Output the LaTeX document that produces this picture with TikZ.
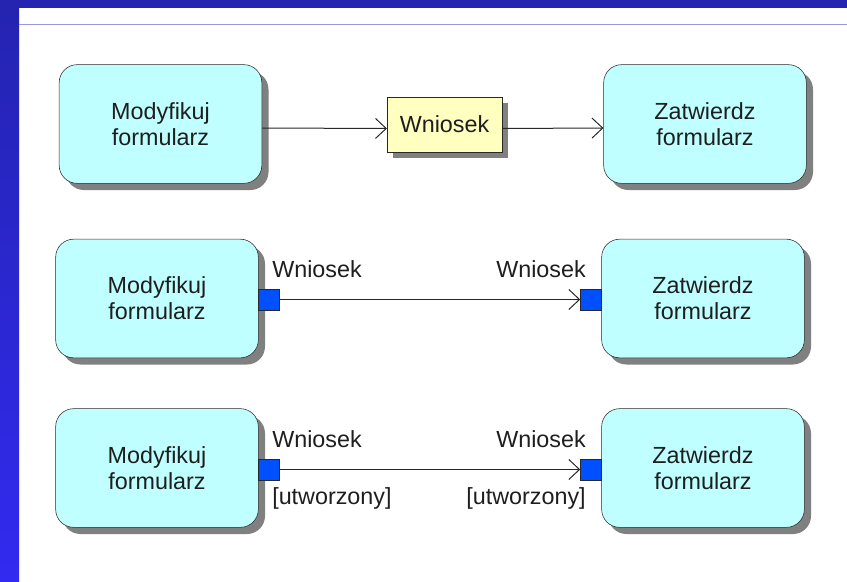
\documentclass[tikz,border=0pt]{standalone}
\usepackage{fontspec}
\setmainfont{Liberation Sans}
\usetikzlibrary{arrows.meta,shadows}

\definecolor{bandblue}{RGB}{36,36,176}
\definecolor{bandlight}{RGB}{50,42,240}
\definecolor{ruleblue}{RGB}{150,150,228}
\definecolor{actfill}{RGB}{192,255,255}
\definecolor{objfill}{RGB}{255,255,192}
\definecolor{portblue}{RGB}{0,80,255}
\definecolor{edgegray}{RGB}{40,40,40}
\definecolor{shadowgray}{RGB}{128,128,128}
\definecolor{txt}{RGB}{30,30,30}

\tikzset{
  activity/.style={draw=edgegray, fill=actfill, rounded corners=13.5pt,
    minimum width=152pt, minimum height=89pt, align=center, text=txt,
    font=\fontsize{17.5}{19.5}\selectfont,
    general shadow={fill=shadowgray, shadow xshift=5pt, shadow yshift=-5pt}},
  objbox/.style={draw=edgegray, fill=objfill, minimum width=86pt,
    minimum height=41pt, text=txt, font=\fontsize{17.5}{19.5}\selectfont,
    general shadow={fill=shadowgray, shadow xshift=4.5pt, shadow yshift=-4.5pt}},
  portbox/.style={draw=edgegray, fill=portblue, minimum size=15.75pt, inner sep=0pt},
  lbl/.style={inner sep=0pt, text=txt, font=\fontsize{17.5}{19.5}\selectfont},
  flow/.style={draw=edgegray, line width=0.75pt, -{Straight Barb[length=8pt,width=15pt]}}
}

\begin{document}
\begin{tikzpicture}[x=0.75pt, y=-0.75pt]
  \useasboundingbox (0,0) rectangle (847,582);
  % frame
  \fill[bandblue] (0,0) rectangle (847,8);
  \shade[top color=bandblue, bottom color=bandlight] (0,0) rectangle (19,582);
  \draw[ruleblue, line width=0.75pt] (19,24) -- (847,24);

  % row 1
  \node[activity] (m1) at (160.5,124) {Modyfikuj\\formularz};
  \node[activity] (z1) at (705,124) {Zatwierdz\\formularz};
  \node[objbox] (w1) at (444.5,124.5) {Wniosek};
  \draw[flow] ([yshift=-3pt]m1.east) -- ([yshift=-3pt]w1.west);
  \draw[flow] ([yshift=-3pt]w1.east) -- ([yshift=-3pt]z1.west);

  % row 2
  \node[activity] (m2) at (157,298.5) {Modyfikuj\\formularz};
  \node[activity] (z2) at (703,298.5) {Zatwierdz\\formularz};
  \node[portbox] (p2a) at (268.5,299.5) {};
  \node[portbox] (p2b) at (591,299.5) {};
  \draw[flow] (p2a.east) -- (p2b.west);
  \node[lbl, anchor=base west] (o2a) at (272,277) {Wniosek};
  \node[lbl, anchor=base east] (o2b) at (586,277) {Wniosek};

  % row 3
  \node[activity] (m3) at (157,468) {Modyfikuj\\formularz};
  \node[activity] (z3) at (703,468) {Zatwierdz\\formularz};
  \node[portbox] (p3a) at (268.5,469.5) {};
  \node[portbox] (p3b) at (591,469.5) {};
  \draw[flow] (p3a.east) -- (p3b.west);
  \node[lbl, anchor=base west] (o3a) at (272,447) {Wniosek};
  \node[lbl, anchor=base east] (o3b) at (586,447) {Wniosek};
  \node[lbl, anchor=base west] (s3a) at (272,504) {[utworzony]};
  \node[lbl, anchor=base east] (s3b) at (586,504) {[utworzony]};
\end{tikzpicture}
\end{document}
